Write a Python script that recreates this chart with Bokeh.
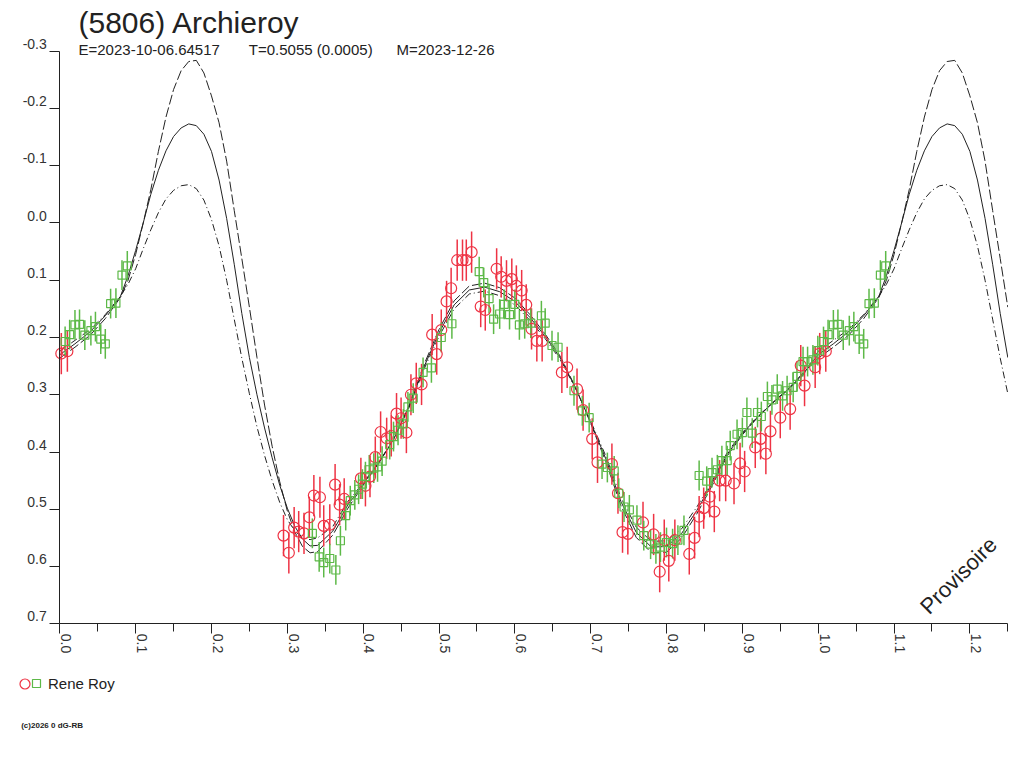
import math
from bokeh.plotting import figure
from bokeh.models import (Range1d, FixedTicker, LinearAxis, Label, Legend,
                          LegendItem, ColumnDataSource)
from bokeh.embed import file_html
from bokeh.resources import INLINE

# ---------------- texts ----------------
TITLE = "(5806) Archieroy"
SUB_E = "E=2023-10-06.64517"
SUB_T = "T=0.5055 (0.0005)"
SUB_M = "M=2023-12-26"
OBSERVER = "Rene Roy"
STAMP = "Provisoire"
FOOTER = "(c)2026 0 dG-RB"

# ---------------- axes ----------------
x_ticks = [0.0, 0.1, 0.2, 0.3, 0.4, 0.5, 0.6, 0.7, 0.8, 0.9, 1.0, 1.1, 1.2]
x_tick_labels = ["0.0", "0.1", "0.2", "0.3", "0.4", "0.5", "0.6", "0.7",
                 "0.8", "0.9", "1.0", "1.1", "1.2"]
x_minor_ticks = [0.05, 0.15, 0.25, 0.35, 0.45, 0.55, 0.65, 0.75, 0.85,
                 0.95, 1.05, 1.15, 1.25]
y_ticks = [-0.3, -0.2, -0.1, 0.0, 0.1, 0.2, 0.3, 0.4, 0.5, 0.6, 0.7]
y_tick_labels = ["-0.3", "-0.2", "-0.1", "0.0", "0.1", "0.2", "0.3", "0.4",
                 "0.5", "0.6", "0.7"]

# ---------------- fitted curves (phase 0..1) ----------------
curve_phase = [0.00, 0.02, 0.04, 0.06, 0.08, 0.09, 0.10, 0.11, 0.12, 0.13,
               0.14, 0.15, 0.16, 0.17, 0.18, 0.19, 0.20, 0.21, 0.22, 0.23,
               0.24, 0.25, 0.26, 0.27, 0.28, 0.29, 0.30, 0.31, 0.32, 0.33,
               0.34, 0.36, 0.38, 0.40, 0.42, 0.44, 0.46, 0.48, 0.50, 0.52,
               0.54, 0.56, 0.58, 0.60, 0.62, 0.64, 0.66, 0.68, 0.70, 0.72,
               0.74, 0.76, 0.78, 0.80, 0.82, 0.84, 0.86, 0.88, 0.90, 0.92,
               0.94, 0.96, 0.98, 1.00]
fit_mag = [0.230, 0.211, 0.190, 0.162, 0.128, 0.092, 0.048, 0.000, -0.050, -0.092,
           -0.126, -0.151, -0.166, -0.173, -0.170, -0.155, -0.125, -0.075, -0.008, 0.072,
           0.158, 0.235, 0.300, 0.358, 0.410, 0.458, 0.498, 0.530, 0.552, 0.564,
           0.563, 0.538, 0.492, 0.456, 0.420, 0.378, 0.322, 0.252, 0.192, 0.143,
           0.117, 0.112, 0.120, 0.137, 0.165, 0.198, 0.236, 0.288, 0.348, 0.412,
           0.487, 0.540, 0.566, 0.565, 0.542, 0.502, 0.455, 0.404, 0.368, 0.339,
           0.314, 0.291, 0.264, 0.230]
fit_upper = [0.236, 0.217, 0.196, 0.167, 0.130, 0.100, 0.055, 0.000, -0.058, -0.125,
             -0.185, -0.233, -0.266, -0.282, -0.284, -0.262, -0.222, -0.175, -0.108, -0.022,
             0.062, 0.147, 0.235, 0.318, 0.390, 0.452, 0.503, 0.540, 0.565, 0.576,
             0.574, 0.545, 0.498, 0.458, 0.421, 0.378, 0.320, 0.248, 0.186, 0.136,
             0.110, 0.105, 0.113, 0.131, 0.160, 0.194, 0.233, 0.287, 0.350, 0.417,
             0.494, 0.549, 0.576, 0.575, 0.550, 0.508, 0.459, 0.407, 0.370, 0.340,
             0.314, 0.290, 0.262, 0.236]
fit_lower = [0.224, 0.205, 0.186, 0.160, 0.128, 0.107, 0.080, 0.045, 0.012, -0.018,
             -0.042, -0.057, -0.065, -0.067, -0.060, -0.040, -0.006, 0.040, 0.100, 0.168,
             0.236, 0.298, 0.356, 0.406, 0.450, 0.488, 0.518, 0.538, 0.550, 0.553,
             0.550, 0.530, 0.486, 0.454, 0.419, 0.378, 0.324, 0.256, 0.198, 0.150,
             0.124, 0.119, 0.127, 0.143, 0.170, 0.202, 0.239, 0.289, 0.346, 0.407,
             0.480, 0.531, 0.556, 0.555, 0.534, 0.496, 0.451, 0.401, 0.366, 0.338,
             0.314, 0.292, 0.266, 0.224]

# ---------------- observations ----------------
red_phase = [0.002, 0.010, 0.295, 0.302, 0.309, 0.315, 0.322, 0.329, 0.335, 0.343,
             0.348, 0.356, 0.363, 0.369, 0.375, 0.397, 0.403, 0.409, 0.416, 0.423,
             0.431, 0.437, 0.444, 0.450, 0.457, 0.463, 0.470, 0.477, 0.491, 0.497,
             0.503, 0.510, 0.516, 0.524, 0.531, 0.536, 0.543, 0.555, 0.561, 0.576,
             0.582, 0.589, 0.596, 0.602, 0.609, 0.615, 0.622, 0.629, 0.636, 0.662,
             0.669, 0.682, 0.690, 0.702, 0.709, 0.728, 0.736, 0.742, 0.749, 0.769,
             0.783, 0.791, 0.797, 0.803, 0.811, 0.830, 0.837, 0.843, 0.849, 0.857,
             0.863, 0.870, 0.878, 0.889, 0.897, 0.903, 0.917, 0.924, 0.931, 0.937,
             0.950, 0.963, 0.977, 0.982, 0.996]
red_mag = [0.228, 0.224, 0.546, 0.576, 0.532, 0.539, 0.542, 0.514, 0.476, 0.479,
           0.529, 0.527, 0.457, 0.492, 0.482, 0.446, 0.459, 0.443, 0.409, 0.365,
           0.376, 0.372, 0.333, 0.341, 0.366, 0.300, 0.280, 0.282, 0.195, 0.229,
           0.187, 0.137, 0.114, 0.065, 0.065, 0.065, 0.051, 0.146, 0.152, 0.080,
           0.094, 0.101, 0.098, 0.110, 0.118, 0.143, 0.185, 0.206, 0.206, 0.261,
           0.252, 0.290, 0.327, 0.377, 0.418, 0.421, 0.472, 0.540, 0.543, 0.523,
           0.544, 0.609, 0.554, 0.590, 0.554, 0.578, 0.550, 0.513, 0.498, 0.478,
           0.504, 0.450, 0.450, 0.455, 0.420, 0.434, 0.392, 0.377, 0.403, 0.364,
           0.340, 0.325, 0.249, 0.284, 0.252]
red_err = 0.036

green_phase = [0.007, 0.013, 0.020, 0.026, 0.033, 0.041, 0.047, 0.054, 0.060, 0.067,
               0.074, 0.082, 0.089, 0.333, 0.342, 0.348, 0.356, 0.364, 0.370, 0.377,
               0.383, 0.389, 0.394, 0.399, 0.403, 0.408, 0.414, 0.419, 0.425, 0.435,
               0.440, 0.446, 0.453, 0.459, 0.466, 0.479, 0.490, 0.503, 0.517, 0.553,
               0.559, 0.566, 0.572, 0.580, 0.586, 0.593, 0.600, 0.606, 0.613, 0.621,
               0.635, 0.640, 0.649, 0.657, 0.678, 0.689, 0.698, 0.715, 0.722, 0.731,
               0.737, 0.744, 0.751, 0.761, 0.770, 0.779, 0.786, 0.792, 0.800, 0.808,
               0.815, 0.823, 0.843, 0.853, 0.860, 0.867, 0.873, 0.880, 0.884, 0.893,
               0.900, 0.906, 0.913, 0.920, 0.925, 0.933, 0.939, 0.946, 0.953, 0.959,
               0.967, 0.972, 0.980, 0.986, 0.993, 0.9995]
green_mag = [0.207, 0.195, 0.178, 0.177, 0.196, 0.188, 0.181, 0.203, 0.211, 0.141,
             0.140, 0.091, 0.075, 0.542, 0.583, 0.593, 0.586, 0.606, 0.555, 0.511,
             0.485, 0.475, 0.465, 0.456, 0.443, 0.431, 0.428, 0.426, 0.416, 0.387,
             0.373, 0.362, 0.351, 0.321, 0.306, 0.261, 0.253, 0.200, 0.176, 0.085,
             0.104, 0.132, 0.168, 0.159, 0.142, 0.160, 0.142, 0.178, 0.176, 0.175,
             0.162, 0.175, 0.214, 0.217, 0.293, 0.328, 0.340, 0.421, 0.427, 0.433,
             0.472, 0.496, 0.501, 0.519, 0.546, 0.561, 0.569, 0.566, 0.558, 0.560,
             0.554, 0.537, 0.441, 0.451, 0.436, 0.431, 0.415, 0.415, 0.389, 0.369,
             0.366, 0.331, 0.367, 0.331, 0.338, 0.303, 0.309, 0.290, 0.302, 0.293,
             0.287, 0.268, 0.242, 0.242, 0.239, 0.223]
green_err = 0.026

PHASE_MAX = 1.25
REPEAT_UNTIL = 0.25   # phases below this are shown again after 1.0

RED = "#ee3344"
GREEN = "#5db948"
INK = "#222222"
FONT = "Liberation Sans"


def folded(ph, vals):
    xs = list(ph) + [p + 1.0 for p in ph if 0.0 < p <= REPEAT_UNTIL]
    ys = list(vals) + [v for p, v in zip(ph, vals) if 0.0 < p <= REPEAT_UNTIL]
    return xs, ys


def folded_points(ph, vals):
    xs = list(ph) + [p + 1.0 for p in ph if p < REPEAT_UNTIL]
    ys = list(vals) + [v for p, v in zip(ph, vals) if p < REPEAT_UNTIL]
    return xs, ys


# ---------------- geometry: the frame covers the whole canvas ----------------
W, H = 1008, 752
AX_LEFT_PX, AX_RIGHT_PX = 59.3, 1007.3      # phase 0 .. 1.25
PX_PER_PHASE = (AX_RIGHT_PX - AX_LEFT_PX) / PHASE_MAX
Y_TOP_TICK_PX, Y_BOT_TICK_PX = 50.7, 623.3  # mag -0.3 .. 0.7
PX_PER_MAG = (Y_BOT_TICK_PX - Y_TOP_TICK_PX) / 1.0

X_START = 0 - AX_LEFT_PX / PX_PER_PHASE
X_END = PHASE_MAX + (W - AX_RIGHT_PX) / PX_PER_PHASE
Y_TOP = -0.3 - Y_TOP_TICK_PX / PX_PER_MAG
Y_BOTTOM = 0.7 + (H - Y_BOT_TICK_PX) / PX_PER_MAG
DY = 7.4 / PX_PER_MAG          # y tick labels sit above their ticks
DX = 6.3 / PX_PER_PHASE        # x tick labels sit right of their ticks

p = figure(width=W, height=H, output_backend="svg", toolbar_location=None,
           x_range=Range1d(X_START, X_END), y_range=Range1d(Y_BOTTOM, Y_TOP),
           x_axis_location=None, y_axis_location=None,
           min_border_left=0, min_border_right=0,
           min_border_top=0, min_border_bottom=0)
p.outline_line_color = None
p.background_fill_color = "white"
p.border_fill_color = "white"
p.xgrid.visible = False
p.ygrid.visible = False
p.extra_y_ranges = {"ylab": Range1d(Y_BOTTOM + DY, Y_TOP + DY)}
p.extra_x_ranges = {"xlab": Range1d(X_START - DX, X_END - DX)}

# y axis: line + ticks
y_main = LinearAxis(ticker=FixedTicker(ticks=y_ticks), bounds=(-0.3, 0.7),
                    fixed_location=0.0,
                    major_label_overrides={t: "" for t in y_ticks},
                    major_label_standoff=0, major_tick_out=10, major_tick_in=0,
                    minor_tick_out=0, minor_tick_in=0,
                    axis_line_color=INK, major_tick_line_color=INK)
p.add_layout(y_main, "left")
# y axis: labels (slightly raised)
y_lab = LinearAxis(y_range_name="ylab", ticker=FixedTicker(ticks=y_ticks),
                   fixed_location=0.0,
                   major_label_overrides=dict(zip(y_ticks, y_tick_labels)),
                   axis_line_color=None, major_tick_line_color=None,
                   minor_tick_line_color=None, major_tick_out=0, major_tick_in=0,
                   minor_tick_out=0, major_label_standoff=13,
                   major_label_text_font=FONT, major_label_text_font_size="14px",
                   major_label_text_color="#333333")
p.add_layout(y_lab, "left")

# x axis: line + ticks
x_main = LinearAxis(ticker=FixedTicker(ticks=x_ticks, minor_ticks=x_minor_ticks),
                    bounds=(0, PHASE_MAX), fixed_location=0.7,
                    major_label_overrides={t: "" for t in x_ticks},
                    major_label_standoff=0, major_tick_out=10, major_tick_in=0,
                    minor_tick_out=8, minor_tick_in=0,
                    axis_line_color=INK, major_tick_line_color=INK,
                    minor_tick_line_color=INK)
p.add_layout(x_main, "below")
# x axis: labels (rotated, slightly to the right)
x_lab = LinearAxis(x_range_name="xlab", ticker=FixedTicker(ticks=x_ticks),
                   fixed_location=0.7,
                   major_label_overrides=dict(zip(x_ticks, x_tick_labels)),
                   major_label_orientation=-math.pi / 2,
                   axis_line_color=None, major_tick_line_color=None,
                   minor_tick_line_color=None, major_tick_out=0, major_tick_in=0,
                   minor_tick_out=0, major_label_standoff=10,
                   major_label_text_font=FONT, major_label_text_font_size="14px",
                   major_label_text_color="#333333")
p.add_layout(x_lab, "below")

# ---------------- curves ----------------
cx, cy = folded(curve_phase, fit_mag)
ux, uy = folded(curve_phase, fit_upper)
lx, ly = folded(curve_phase, fit_lower)
p.line(ux, uy, line_color=INK, line_width=1, line_dash="10 3")
p.line(lx, ly, line_color=INK, line_width=1, line_dash="7 3 1 3")
p.line(cx, cy, line_color=INK, line_width=1)

# ---------------- observations ----------------
rx, ry = folded_points(red_phase, red_mag)
gx, gy = folded_points(green_phase, green_mag)
rsrc = ColumnDataSource(dict(x=rx, y=ry, lo=[v - red_err for v in ry],
                             hi=[v + red_err for v in ry]))
gsrc = ColumnDataSource(dict(x=gx, y=gy, lo=[v - green_err for v in gy],
                             hi=[v + green_err for v in gy]))
p.segment("x", "lo", "x", "hi", source=rsrc, line_color=RED, line_width=1.5)
p.segment("x", "lo", "x", "hi", source=gsrc, line_color=GREEN, line_width=1.5)
r_red = p.scatter("x", "y", source=rsrc, marker="circle", size=11,
                  fill_color=None, line_color=RED, line_width=1.2)
r_green = p.scatter("x", "y", source=gsrc, marker="square", size=8,
                    fill_color=None, line_color=GREEN, line_width=1.2)


# ---------------- texts ----------------
def xs_of(screen_x):
    return (screen_x - AX_LEFT_PX) / PX_PER_PHASE


def ys_of(screen_y):
    return (screen_y - Y_BOT_TICK_PX) / PX_PER_MAG + 0.7


p.add_layout(Label(x=xs_of(78), y=ys_of(21.5), text=TITLE, text_font=FONT,
                   text_font_size="30px", text_color=INK,
                   text_baseline="alphabetic"))
for sx, txt in [(78, SUB_E), (248.3, SUB_T), (396, SUB_M)]:
    p.add_layout(Label(x=xs_of(sx), y=ys_of(48.5), text=txt, text_font=FONT,
                       text_font_size="15px", text_color=INK,
                       text_baseline="alphabetic"))
p.add_layout(Label(x=xs_of(958), y=ys_of(575), text=STAMP, angle=math.pi / 4,
                   text_align="center", text_baseline="middle", text_font=FONT,
                   text_font_size="22px", text_color=INK))
p.add_layout(Label(x=xs_of(20.7), y=ys_of(724.5), text=FOOTER, text_font=FONT,
                   text_font_size="8px", text_font_style="bold", text_color=INK,
                   text_baseline="alphabetic"))

# ---------------- legend (circle, then square + name) ----------------
leg1 = Legend(items=[LegendItem(label="", renderers=[r_red])],
              location=(11.5, H - 695.5),
              glyph_width=25, glyph_height=25, label_standoff=0, padding=0,
              margin=0, spacing=0, border_line_color=None,
              background_fill_alpha=0)
leg2 = Legend(items=[LegendItem(label=OBSERVER, renderers=[r_green])],
              location=(26, H - 693),
              glyph_width=20, glyph_height=20, label_standoff=2, padding=0,
              margin=0, spacing=0, border_line_color=None,
              background_fill_alpha=0, label_text_font=FONT,
              label_text_font_size="15px", label_text_color=INK)
p.add_layout(leg1, "center")
p.add_layout(leg2, "center")

open("out.html", "w").write(file_html(p, INLINE))
